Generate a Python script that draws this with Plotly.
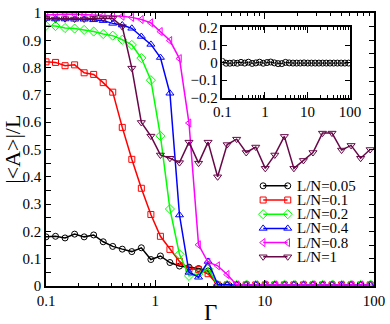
import plotly.graph_objects as go

# Gamma values (log spaced)
gamma = [0.1, 0.1222, 0.1494, 0.1827, 0.2233, 0.2729, 0.3336, 0.4078, 0.4985,
         0.6094, 0.7447, 0.9104, 1.113, 1.360, 1.663, 2.032, 2.485, 3.037,
         3.713, 4.539, 5.546, 6.780, 8.288, 10.13, 12.38, 15.14, 18.50,
         22.62, 27.65, 33.80, 41.32, 50.50, 61.73, 75.46, 92.25]

tail = [0.004] * 16

a_005 = [0.180, 0.182, 0.176, 0.190, 0.180, 0.187, 0.162, 0.145, 0.135, 0.126,
         0.140, 0.097, 0.110, 0.086, 0.073, 0.069, 0.064, 0.055, 0.004] + tail
a_01 = [0.821, 0.819, 0.807, 0.810, 0.781, 0.775, 0.745, 0.710, 0.581, 0.464,
        0.358, 0.262, 0.182, 0.134, 0.090, 0.063, 0.060, 0.045, 0.004] + tail
a_02 = [0.953, 0.952, 0.945, 0.943, 0.938, 0.932, 0.923, 0.917, 0.902, 0.883,
        0.835, 0.754, 0.550, 0.282, 0.116, 0.037, 0.045, 0.063, 0.004] + tail
a_04 = [0.980, 0.978, 0.978, 0.977, 0.977, 0.975, 0.972, 0.962, 0.956, 0.944,
        0.914, 0.885, 0.837, 0.706, 0.260, 0.050, 0.032, 0.090, 0.006] + tail
a_08 = [0.993, 0.995, 0.995, 0.995, 0.994, 0.993, 0.991, 0.990, 0.988, 0.984,
        0.976, 0.964, 0.932, 0.899, 0.833, 0.597, 0.151, 0.087, 0.074, 0.042,
        0.004] + [0.004] * 14
a_1 = [0.980, 0.978, 0.979, 0.978, 0.978, 0.980, 0.980, 0.980, 0.950, 0.798,
       0.599, 0.549, 0.480, 0.468, 0.452, 0.527, 0.450, 0.527, 0.400, 0.518,
       0.538, 0.489, 0.509, 0.431, 0.480, 0.548, 0.431, 0.460, 0.489, 0.560,
       0.560, 0.498, 0.515, 0.468, 0.500]

# inset: signed <A>/L for L/N=0.05
inset_a = [0.006, -0.004, -0.004, -0.002, -0.004, 0.001, -0.003, 0.002, -0.005,
           -0.002, 0.002, -0.004, 0.000, 0.003, -0.002, -0.006, -0.006, 0.001,
           -0.002, -0.003, -0.003, -0.003, -0.002, -0.003, -0.003, -0.003,
           -0.003, -0.003, -0.003, -0.003, -0.003, -0.003, -0.003, -0.003, -0.003]

labels = ["L/N=0.05", "L/N=0.1", "L/N=0.2", "L/N=0.4", "L/N=0.8", "L/N=1"]
series = [a_005, a_01, a_02, a_04, a_08, a_1]
colors = ["#000000", "#ff0000", "#00ff00", "#0000ff", "#ff00ff", "rgb(103,7,72)"]
symbols = ["circle-open", "square-open", "diamond-open", "triangle-up-open",
           "triangle-left-open", "triangle-down-open"]
msizes = [6, 6, 7, 7, 7, 7]

FONT = "Liberation Serif"
minor_log = [m * 10 ** e for e in (-1, 0, 1) for m in range(2, 10)]

fig = go.Figure()

for lab, ys, col, sym, ms in zip(labels, series, colors, symbols, msizes):
    fig.add_trace(go.Scatter(
        x=gamma, y=ys, mode="lines+markers", name=lab,
        line=dict(color=col, width=1.5),
        marker=dict(symbol=sym, size=ms, color=col, line=dict(width=1, color=col)),
        showlegend=False,
    ))

# inset
fig.add_trace(go.Scatter(
    x=gamma, y=inset_a, mode="lines+markers", xaxis="x2", yaxis="y2",
    line=dict(color="black", width=1),
    marker=dict(symbol="circle-open", size=6, color="black", line=dict(width=1)),
    showlegend=False,
))

# hand-drawn legend (marker at both ends of the line, like the original)
for i, (lab, col, sym, ms) in enumerate(zip(labels, colors, symbols, msizes)):
    fig.add_trace(go.Scatter(
        x=[0, 1], y=[i, i], mode="lines+markers", xaxis="x3", yaxis="y3",
        line=dict(color=col, width=1.5),
        marker=dict(symbol=sym, size=ms, color=col, line=dict(width=1, color=col)),
        cliponaxis=False, showlegend=False, hoverinfo="skip",
    ))
    fig.add_annotation(
        text=lab, x=0.758, xref="paper", y=i, yref="y3",
        xanchor="left", yanchor="middle", showarrow=False,
        font=dict(family=FONT, size=15, color="black"),
    )

# axis titles
fig.add_annotation(
    text="Γ", x=0.5, xref="paper", y=-0.096, yref="paper",
    xanchor="center", yanchor="middle", showarrow=False,
    font=dict(family=FONT, size=23, color="black"),
)
fig.add_annotation(
    text="|&lt;A&gt;|/L", x=-0.103, xref="paper", y=0.5, yref="paper",
    xanchor="center", yanchor="middle", showarrow=False, textangle=-90,
    font=dict(family=FONT, size=22, color="black"),
)

axis_common = dict(
    showline=True, linecolor="black", linewidth=1.5, mirror="ticks",
    ticks="inside", tickcolor="black", showgrid=False, zeroline=False,
    tickfont=dict(family=FONT, size=15, color="black"),
)

fig.update_layout(
    width=390, height=324,
    margin=dict(l=46, r=13, t=5, b=38),
    plot_bgcolor="white", paper_bgcolor="white",
    font=dict(family=FONT, color="black"),
    xaxis=dict(
        type="log", range=[-1, 2], ticklen=6,
        tickvals=[0.1, 1, 10, 100], ticktext=["0.1", "1", "10", "100"],
        minor=dict(tickvals=minor_log, ticks="inside", ticklen=3, tickcolor="black"),
        **axis_common,
    ),
    yaxis=dict(
        range=[0, 1], dtick=0.1, ticklen=5,
        minor=dict(dtick=0.05, ticks="inside", ticklen=5, tickcolor="black"),
        **axis_common,
    ),
    xaxis2=dict(
        type="log", range=[-1, 2], domain=[0.538, 0.927], anchor="y2", ticklen=6,
        tickvals=[0.1, 1, 10, 100], ticktext=["0.1", "1", "10", "100"],
        minor=dict(tickvals=minor_log, ticks="inside", ticklen=3, tickcolor="black"),
        **axis_common,
    ),
    yaxis2=dict(
        range=[-0.2, 0.2], domain=[0.690, 0.947], anchor="x2", dtick=0.1, ticklen=5,
        **axis_common,
    ),
    xaxis3=dict(domain=[0.662, 0.737], range=[0, 1], anchor="y3", visible=False),
    yaxis3=dict(domain=[0.081, 0.393], range=[5.5, -0.5], anchor="x3", visible=False),
)

# drop the page's default body margin so the figure sits at the window's corner
fig.write_html(
    "out.html",
    config={"displayModeBar": False},
    post_script="document.body.style.margin='0px';",
)
